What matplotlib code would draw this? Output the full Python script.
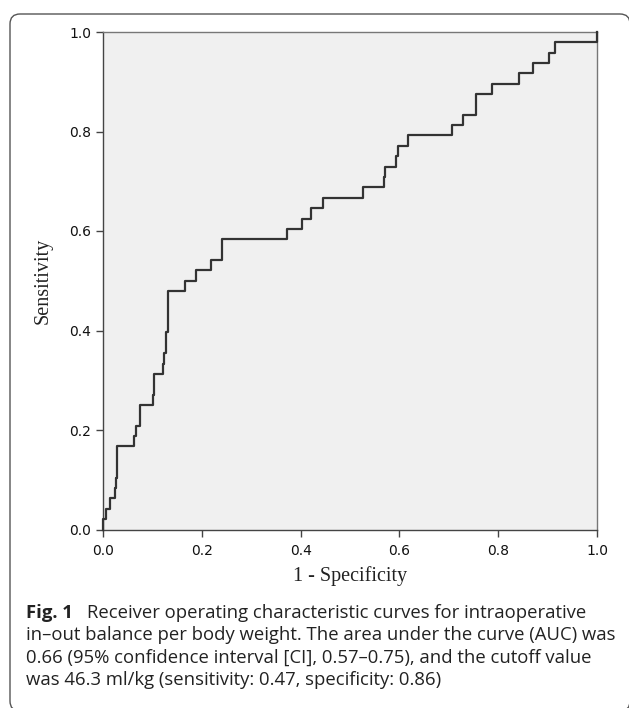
import matplotlib
matplotlib.use("Agg")
import matplotlib.pyplot as plt
from matplotlib.patches import FancyBboxPatch

# ROC curve vertices (1 - specificity, sensitivity); each point marks where sensitivity jumps
fpr = [0.0, 0.0, 0.006, 0.014, 0.024, 0.026, 0.029, 0.063, 0.066, 0.075, 0.102, 0.104,
       0.121, 0.123, 0.1275, 0.132, 0.167, 0.189, 0.218, 0.240, 0.372, 0.402, 0.422,
       0.445, 0.526, 0.569, 0.571, 0.594, 0.5965, 0.617, 0.706, 0.728, 0.756, 0.788,
       0.843, 0.871, 0.9035, 0.914, 1.0]
sens = [0.0, 0.021, 0.042, 0.063, 0.083, 0.104, 0.167, 0.188, 0.208, 0.250, 0.271, 0.313,
        0.333, 0.354, 0.396, 0.479, 0.500, 0.521, 0.542, 0.583, 0.604, 0.625, 0.646,
        0.667, 0.688, 0.708, 0.729, 0.750, 0.771, 0.792, 0.813, 0.833, 0.875, 0.896,
        0.917, 0.938, 0.958, 0.979, 1.0]
tick_vals = [0.0, 0.2, 0.4, 0.6, 0.8, 1.0]
tick_labels = ["0.0", "0.2", "0.4", "0.6", "0.8", "1.0"]
xlabel = "1 - Specificity"
ylabel = "Sensitivity"
cap_bold = "Fig. 1"
cap_lines = [
    "Receiver operating characteristic curves for intraoperative",
    "in\u2013out balance per body weight. The area under the curve (AUC) was",
    "0.66 (95% confidence interval [CI], 0.57\u20130.75), and the cutoff value",
    "was 46.3 ml/kg (sensitivity: 0.47, specificity: 0.86)",
]

W, H = 629, 708
fig = plt.figure(figsize=(W / 100, H / 100), dpi=100)
fig.patch.set_facecolor("white")

# outer rounded frame
frame = FancyBboxPatch((0.10, -0.03), 6.20, 6.97,
                       boxstyle="round,pad=0,rounding_size=0.10",
                       transform=fig.dpi_scale_trans, fill=False,
                       edgecolor="#555555", linewidth=1.0)
fig.patches.append(frame)

L, R, T, B = 103, 597, 32, 529.5
ax = fig.add_axes([L / W, 1 - B / H, (R - L) / W, (B - T) / H])
ax.set_facecolor("#F0F0F0")
ax.step(fpr, sens, where="post", color="#333333", lw=1.6, clip_on=False, zorder=3)
ax.set_xlim(0, 1)
ax.set_ylim(0, 1)
ax.set_xticks(tick_vals)
ax.set_xticklabels(tick_labels)
ax.set_yticks(tick_vals)
ax.set_yticklabels(tick_labels)
for s in ax.spines.values():
    s.set_color("#444444")
    s.set_linewidth(1.0)
ax.spines["top"].set_color("#777777")
ax.spines["right"].set_color("#777777")
ax.tick_params(axis="both", direction="out", length=5, width=1.0, color="#444444",
               labelsize=10, labelcolor="#111111")
ax.tick_params(axis="x", pad=5.5)
ax.tick_params(axis="y", pad=3.5)
for lab in ax.get_xticklabels() + ax.get_yticklabels():
    lab.set_family("DejaVu Sans")
ax.set_xlabel(xlabel, family="Liberation Serif", fontsize=14.5, color="#222222", labelpad=6)
ax.set_ylabel(ylabel, family="Liberation Serif", fontsize=14.5, color="#222222", labelpad=12)

# caption: fit font size so that line 2 spans the measured width
cap_font = "Open Sans"
fig.canvas.draw()
r = fig.canvas.get_renderer()
probe = fig.text(0, 0, cap_lines[1], family=cap_font, fontsize=12)
wpx = probe.get_window_extent(r).width
probe.remove()
fs = 12 * (612 - 26) / wpx

baselines = [617.5, 640, 662.5, 685]
fig.text(26 / W, 1 - baselines[0] / H, cap_bold, family=cap_font, fontweight="bold",
         fontsize=fs, va="baseline", ha="left", color="#222222")
fig.text(87 / W, 1 - baselines[0] / H, cap_lines[0], family=cap_font,
         fontsize=fs, va="baseline", ha="left", color="#222222")
for i in range(1, 4):
    fig.text(26 / W, 1 - baselines[i] / H, cap_lines[i], family=cap_font,
             fontsize=fs, va="baseline", ha="left", color="#222222")

fig.savefig("out.png", dpi=100)
